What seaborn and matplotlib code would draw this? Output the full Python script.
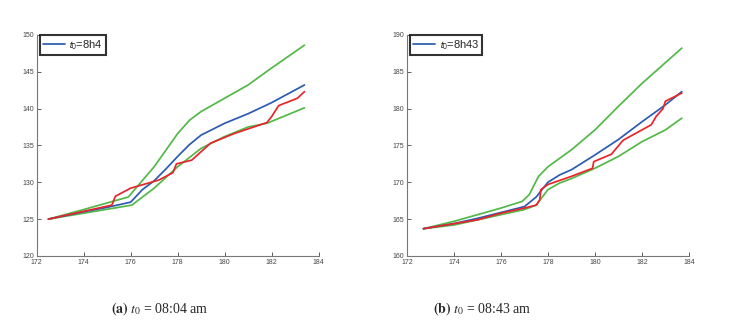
import numpy as np
import pandas as pd
import matplotlib
matplotlib.use("Agg")
import matplotlib.pyplot as plt
import seaborn as sns

# panel (a): t0 = 08:04
a_blue_x = [172.5, 174.0, 175.0, 176.0, 176.5, 177.0, 177.5, 178.0, 178.5, 179.0, 180.0, 181.0, 182.0, 183.4]
a_blue_y = [125.0, 126.0, 126.6, 127.3, 129.0, 130.2, 131.8, 133.5, 135.1, 136.4, 138.0, 139.3, 140.8, 143.2]
a_up_x = [172.5, 174.0, 175.9, 177.0, 178.0, 178.5, 179.0, 180.0, 181.0, 182.0, 183.4]
a_up_y = [125.0, 126.3, 128.0, 132.1, 136.6, 138.4, 139.6, 141.4, 143.2, 145.5, 148.6]
a_lo_x = [172.5, 176.05, 177.0, 178.0, 179.0, 180.0, 181.0, 181.8, 183.4]
a_lo_y = [125.0, 126.9, 129.2, 132.1, 134.6, 136.2, 137.5, 138.0, 140.1]
a_red_x = [172.5, 175.2, 175.35, 176.0, 177.2, 177.8, 177.95, 178.6, 179.4, 180.4, 181.8, 182.0, 182.3, 183.1, 183.4]
a_red_y = [125.0, 126.9, 128.1, 129.2, 130.3, 131.3, 132.5, 133.0, 135.3, 136.6, 138.1, 138.9, 140.4, 141.4, 142.3]

# panel (b): t0 = 08:43
b_blue_x = [172.7, 174.0, 175.0, 176.0, 177.0, 177.5, 178.0, 178.5, 179.0, 180.0, 181.0, 182.0, 183.0, 183.7]
b_blue_y = [163.7, 164.4, 165.1, 165.9, 166.7, 168.0, 170.0, 171.0, 171.7, 173.7, 175.8, 178.2, 180.5, 182.3]
b_up_x = [172.7, 174.0, 175.0, 176.0, 176.9, 177.2, 177.6, 178.0, 179.0, 180.0, 181.0, 182.0, 183.7]
b_up_y = [163.7, 164.7, 165.6, 166.5, 167.4, 168.3, 170.8, 172.1, 174.4, 177.1, 180.3, 183.4, 188.2]
b_lo_x = [172.7, 174.0, 175.0, 176.0, 177.0, 177.5, 178.0, 178.5, 179.0, 180.0, 181.0, 182.0, 183.0, 183.7]
b_lo_y = [163.7, 164.2, 164.9, 165.6, 166.3, 166.9, 169.0, 169.9, 170.5, 171.9, 173.5, 175.5, 177.1, 178.7]
b_red_x = [172.7, 175.0, 176.0, 177.0, 177.5, 177.65, 177.7, 178.0, 179.0, 179.9, 179.95, 180.7, 181.2, 182.4, 182.6, 182.9, 183.0, 183.7]
b_red_y = [163.7, 164.9, 165.8, 166.5, 166.9, 167.6, 169.0, 169.7, 170.8, 171.9, 172.8, 173.8, 175.7, 177.8, 178.9, 180.0, 181.0, 182.1]

labels = [r"$\mathsf{t}_\mathsf{0}$=8h4", r"$\mathsf{t}_\mathsf{0}$=8h43"]
captions = [r"$\mathbf{(a)}$ $t_0$ = 08:04 am", r"$\mathbf{(b)}$ $t_0$ = 08:43 am"]
ylims = [(120, 150), (160, 190)]

BLUE = "#2b5cb0"
RED = "#e8252b"
GREEN = "#52b848"

sns.set_style("ticks")
plt.rcParams["font.family"] = ["Liberation Sans", "DejaVu Sans"]
plt.rcParams["mathtext.fontset"] = "stix"

fig = plt.figure(figsize=(7.34, 3.32), dpi=100)
ax_a = fig.add_axes([0.050, 0.229, 0.384, 0.666])
ax_b = fig.add_axes([0.5545, 0.229, 0.384, 0.666])

panels = [
    (ax_a, a_blue_x, a_blue_y, a_up_x, a_up_y, a_lo_x, a_lo_y, a_red_x, a_red_y),
    (ax_b, b_blue_x, b_blue_y, b_up_x, b_up_y, b_lo_x, b_lo_y, b_red_x, b_red_y),
]

for i, (ax, bx, by, ux, uy, lx, ly, rx, ry) in enumerate(panels):
    sns.lineplot(x=ux, y=uy, color=GREEN, lw=1.25, estimator=None, sort=False, ax=ax)
    sns.lineplot(x=lx, y=ly, color=GREEN, lw=1.25, estimator=None, sort=False, ax=ax)
    sns.lineplot(x=bx, y=by, color=BLUE, lw=1.25, estimator=None, sort=False, ax=ax, label=labels[i])
    sns.lineplot(x=rx, y=ry, color=RED, lw=1.25, estimator=None, sort=False, ax=ax)

    ax.set_xlim(172, 184)
    ax.set_ylim(*ylims[i])
    ax.set_xticks(np.arange(172, 185, 2))
    ax.set_yticks(np.arange(ylims[i][0], ylims[i][1] + 1, 5))
    ax.tick_params(direction="in", length=3, width=0.6, labelsize=5, colors="#444444", pad=2)
    for s in ["left", "bottom"]:
        ax.spines[s].set_color("#777777")
        ax.spines[s].set_linewidth(0.8)
    sns.despine(ax=ax)
    ax.set_xlabel("")
    ax.set_ylabel("")

    leg = ax.legend(loc="upper left", bbox_to_anchor=(0.01, 1.0), fontsize=8, frameon=True,
                    fancybox=False, handlelength=2.0, handletextpad=0.3, borderpad=0.3,
                    borderaxespad=0.0)
    leg.get_frame().set_edgecolor("black")
    leg.get_frame().set_linewidth(1.5)

fig.text(0.218, 0.07, captions[0], ha="center", va="center", fontsize=10,
         family=["Liberation Serif", "DejaVu Serif"])
fig.text(0.657, 0.07, captions[1], ha="center", va="center", fontsize=10,
         family=["Liberation Serif", "DejaVu Serif"])

fig.savefig("out.png", dpi=100)
